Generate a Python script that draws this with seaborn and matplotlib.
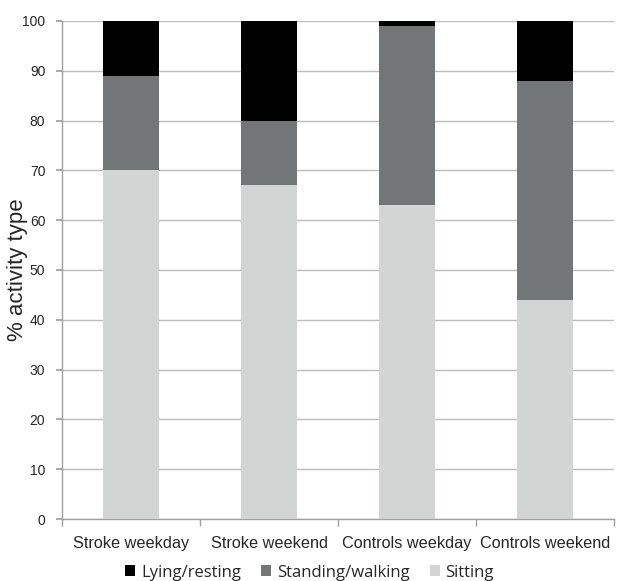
import numpy as np
import pandas as pd
import matplotlib
matplotlib.use("Agg")
import matplotlib.pyplot as plt
import seaborn as sns
from matplotlib.patches import Patch

sns.set_theme(style="white")
plt.rcParams["font.family"] = ["Liberation Sans", "DejaVu Sans"]

groups = ["Stroke weekday", "Stroke weekend", "Controls weekday", "Controls weekend"]
sitting = [70, 67, 63, 44]
standing = [19, 13, 36, 44]
lying = [11, 20, 1, 12]

colours = {
    "Lying/resting": "#000000",
    "Standing/walking": "#727676",
    "Sitting": "#D3D5D4",
}

df = pd.DataFrame({"group": groups, "Sitting": sitting,
                   "Standing/walking": standing, "Lying/resting": lying})
# cumulative tops, drawn from tallest to shortest so they overlap into stacks
df["top_standing"] = df["Sitting"] + df["Standing/walking"]
df["top_lying"] = df["top_standing"] + df["Lying/resting"]

fig = plt.figure(figsize=(6.19, 5.81), dpi=100)
ax = fig.add_axes([0.1002, 0.1067, 0.8918, 0.8572])

for col, name in [("top_lying", "Lying/resting"),
                  ("top_standing", "Standing/walking"),
                  ("Sitting", "Sitting")]:
    sns.barplot(data=df, x="group", y=col, color=colours[name], width=0.4,
                saturation=1, ax=ax, zorder=3, edgecolor="none")

ax.set_ylim(0, 100)
ax.set_xlim(-0.5, 3.5)
ax.set_yticks(range(0, 101, 10))
ax.yaxis.grid(True, color="#BDBDBD", linewidth=1, zorder=0)
ax.set_axisbelow(True)

ax.set_xlabel("")
ax.set_ylabel("% activity type", fontsize=16)
ax.yaxis.set_label_coords(-0.062, 0.5)
ax.tick_params(axis="y", labelsize=10, length=4, color="#A0A0A0",
               direction="out", left=True, pad=8)
ax.tick_params(axis="x", which="major", labelsize=11.7, length=0, pad=12)
ax.set_xticks(np.arange(-0.5, 4, 1), minor=True)
ax.tick_params(axis="x", which="minor", length=5, color="#A0A0A0",
               direction="out", bottom=True)

for side in ["top", "right"]:
    ax.spines[side].set_visible(False)
for side in ["left", "bottom"]:
    ax.spines[side].set_color("#A0A0A0")
    ax.spines[side].set_linewidth(1)

handles = [Patch(facecolor=colours[n], edgecolor="none", label=n)
           for n in ["Lying/resting", "Standing/walking", "Sitting"]]
leg = fig.legend(handles=handles, loc="lower center", ncol=3,
                 bbox_to_anchor=(0.5, -0.025), frameon=False,
                 handlelength=0.6, handleheight=0.6, handletextpad=0.35,
                 columnspacing=1.2, prop={"family": "Open Sans", "size": 12})

fig.savefig("out.png", dpi=100)
